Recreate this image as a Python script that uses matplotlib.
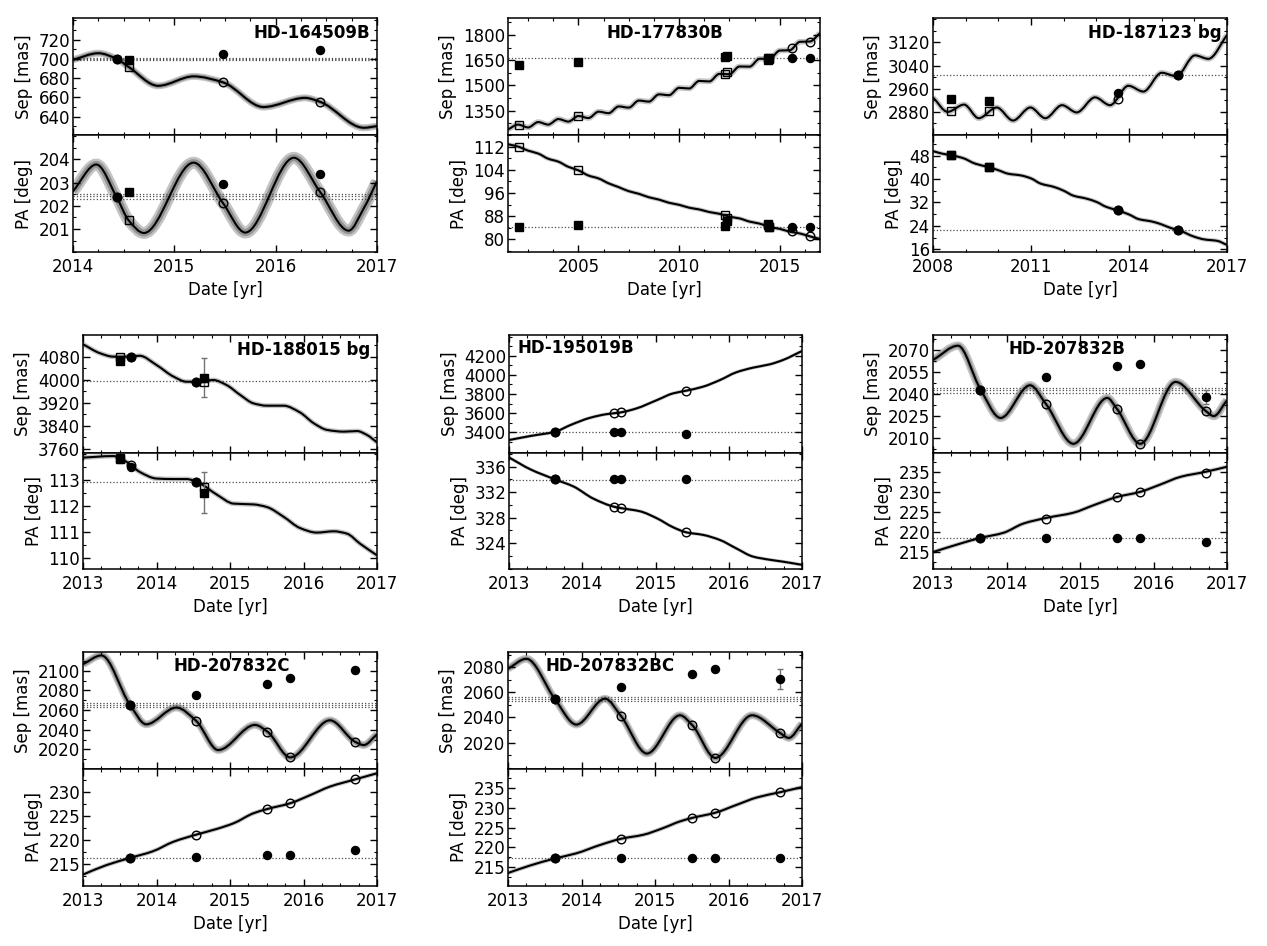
import numpy as np
import matplotlib
matplotlib.use("Agg")
import matplotlib.pyplot as plt
from matplotlib.path import Path
from matplotlib.patches import PathPatch
from matplotlib.ticker import FixedLocator, AutoMinorLocator

W, H = 1267, 946

# ---------------- data ----------------
names = ['HD-164509B', 'HD-177830B', 'HD-187123 bg', 'HD-188015 bg',
         'HD-195019B', 'HD-207832B', 'HD-207832C', 'HD-207832BC']

# HD-164509B
p1_sep_t = [2014.0, 2014.25, 2014.43, 2014.55, 2014.84, 2015.19, 2015.48, 2015.88, 2016.29, 2016.44, 2016.87, 2017.0]
p1_sep_v = [699, 705.8, 700, 691.5, 672, 681.8, 675.6, 650, 659.5, 655.3, 628.5, 630.2]
p1_pa_t = [2014.0, 2014.23, 2014.43, 2014.55, 2014.70, 2015.19, 2015.48, 2015.70, 2016.18, 2016.44, 2016.72, 2016.87, 2017.0]
p1_pa_v = [202.63, 203.78, 202.38, 201.37, 200.83, 203.86, 202.12, 200.85, 204.07, 202.59, 200.93, 201.9, 203.06]
p1_ct = [2014.43, 2015.48, 2016.44]
p1_c_sep = [700.0, 704.8, 709.3]
p1_c_sep_pred = [700.0, 675.6, 655.3]
p1_c_pa = [202.38, 202.93, 203.35]
p1_c_pa_pred = [202.38, 202.12, 202.59]
p1_st = [2014.55]
p1_s_sep = [698.5]
p1_s_sep_pred = [691.5]
p1_s_pa = [202.61]
p1_s_pa_pred = [201.37]

# HD-177830B
p2_sep_t = [2001.5, 2002.0, 2002.5, 2003.0, 2003.5, 2004.0, 2004.5, 2005.0, 2005.5, 2006.0, 2006.5,
            2007.0, 2007.5, 2008.0, 2008.5, 2009.0, 2009.5, 2010.0, 2010.5, 2011.0, 2011.5, 2012.0,
            2012.5, 2013.0, 2013.5, 2014.0, 2014.5, 2015.0, 2015.5, 2016.0, 2016.5, 2017.0]
p2_sep_v = [1238, 1267, 1250, 1282, 1267, 1300, 1285, 1318, 1306, 1344, 1335, 1375, 1368, 1410, 1404,
            1447, 1442, 1486, 1482, 1527, 1524, 1569, 1567, 1613, 1612, 1659, 1659, 1708, 1710, 1760,
            1762, 1812]
p2_pa_t = p2_sep_t
p2_pa_v = [112.8, 112.0, 110.6, 109.6, 107.8, 106.8, 105.0, 103.8, 102.0, 101.0, 99.3, 98.0, 96.6,
           95.7, 94.5, 93.7, 92.6, 91.9, 90.9, 90.3, 89.4, 88.8, 87.8, 87.2, 86.1, 85.4, 84.2, 83.6,
           82.6, 82.0, 81.0, 80.1]
p2_ct = [2015.59, 2016.5]
p2_c_sep = [1665, 1665]
p2_c_sep_pred = [1721, 1760]
p2_c_pa = [84.4, 84.4]
p2_c_pa_pred = [82.8, 81.3]
p2_st = [2002.06, 2004.99, 2012.28, 2012.36, 2014.40, 2014.46]
p2_s_sep = [1621, 1638, 1671, 1676, 1661, 1666]
p2_s_sep_pred = [1266, 1316, 1568, 1580, 1652, 1658]
p2_s_pa = [84.4, 84.8, 84.6, 86.4, 85.4, 84.4]
p2_s_pa_pred = [111.9, 103.8, 88.3, 87.2, 84.8, 84.4]

# HD-187123 bg
p3_sep_t = [2008.0, 2008.45, 2008.95, 2009.4, 2009.95, 2010.45, 2010.98, 2011.44, 2011.95, 2012.4,
            2012.96, 2013.42, 2013.98, 2014.44, 2015.0, 2015.45, 2016.02, 2016.43, 2017.0]
p3_sep_v = [2930, 2880, 2905, 2858, 2895, 2850, 2895, 2858, 2903, 2878, 2930, 2903, 2970, 2950, 3015,
            3003, 3075, 3063, 3145]
p3_pa_t = [2008.0, 2008.3, 2008.55, 2008.9, 2009.3, 2009.72, 2010.0, 2010.3, 2010.7, 2011.0, 2011.3,
           2011.7, 2012.0, 2012.3, 2012.7, 2013.0, 2013.3, 2013.65, 2014.0, 2014.3, 2014.7, 2015.0,
           2015.3, 2015.51, 2016.0, 2016.3, 2016.7, 2017.0]
p3_pa_v = [49.5, 48.6, 48.1, 47.2, 45.2, 44.0, 43.0, 41.8, 41.2, 40.2, 38.4, 37.3, 36.0, 34.3, 33.3,
           32.2, 30.5, 29.3, 27.9, 26.3, 25.5, 24.5, 23.2, 22.6, 20.3, 19.4, 18.9, 17.5]
p3_ct = [2013.65, 2015.51]
p3_c_sep = [2946, 3006]
p3_c_sep_pred = [2926, 3006]
p3_c_pa = [29.3, 22.6]
p3_c_pa_pred = [29.4, 22.6]
p3_st = [2008.55, 2009.72]
p3_s_sep = [2926, 2917]
p3_s_sep_pred = [2883, 2883]
p3_s_pa = [48.1, 44.0]
p3_s_pa_pred = [48.3, 44.2]

# HD-188015 bg
p4_sep_t = [2013.0, 2013.23, 2013.41, 2013.64, 2013.77, 2014.0, 2014.23, 2014.41, 2014.59, 2014.77,
            2014.95, 2015.14, 2015.32, 2015.5, 2015.73, 2015.95, 2016.14, 2016.32, 2016.55, 2016.73,
            2016.86, 2017.0]
p4_sep_v = [4123, 4092, 4080, 4080, 4083, 4051, 4011, 3993, 3993, 3999, 3982, 3947, 3918, 3910, 3910,
            3887, 3849, 3826, 3820, 3822, 3809, 3783]
p4_pa_t = [2013.0, 2013.41, 2013.59, 2013.77, 2014.0, 2014.23, 2014.41, 2014.59, 2014.82, 2015.05,
           2015.32, 2015.5, 2015.73, 2015.95, 2016.18, 2016.41, 2016.59, 2016.77, 2017.0]
p4_pa_v = [113.87, 113.93, 113.71, 113.32, 113.06, 113.04, 113.04, 112.87, 112.44, 112.09, 112.06,
           111.96, 111.58, 111.15, 110.97, 111.02, 110.93, 110.54, 110.09]
p4_ct = [2013.65, 2014.54]
p4_c_sep = [4080, 3993]
p4_c_sep_pred = [4080, 3993]
p4_c_pa = [113.52, 112.91]
p4_c_pa_pred = [113.58, 112.91]
p4_st = [2013.51, 2014.65]
p4_s_sep = [4065, 4007]
p4_s_sep_err = [0, 67]
p4_s_sep_pred = [4080, 3991]
p4_s_pa = [113.80, 112.52]
p4_s_pa_err = [0.15, 0.8]
p4_s_pa_pred = [113.87, 112.74]

# HD-195019B
p5_sep_t = [2013.0, 2013.29, 2013.63, 2013.84, 2014.11, 2014.33, 2014.53, 2014.74, 2015.02, 2015.24,
            2015.42, 2015.65, 2015.88, 2016.1, 2016.33, 2016.56, 2016.74, 2017.0]
p5_sep_v = [3320, 3362, 3407, 3477, 3553, 3590, 3609, 3650, 3737, 3807, 3835, 3877, 3946, 4026, 4075,
            4110, 4155, 4249]
p5_pa_t = [2013.0, 2013.29, 2013.63, 2013.88, 2014.15, 2014.44, 2014.53, 2014.79, 2015.02, 2015.24,
           2015.42, 2015.65, 2015.88, 2016.1, 2016.33, 2016.56, 2016.74, 2017.0]
p5_pa_v = [337.46, 335.6, 334.0, 332.9, 331.0, 329.7, 329.5, 329.0, 327.9, 326.5, 325.7, 325.3, 324.5,
           323.2, 321.9, 321.4, 321.1, 320.6]
p5_ct = [2013.63, 2014.44, 2014.53, 2015.42]
p5_c_sep = [3407, 3400, 3400, 3383]
p5_c_sep_pred = [3407, 3598, 3609, 3835]
p5_c_pa = [334.0, 334.0, 334.0, 334.07]
p5_c_pa_pred = [334.0, 329.7, 329.5, 325.7]

# HD-207832B
p6_sep_t = [2013.0, 2013.34, 2013.64, 2013.92, 2014.32, 2014.54, 2014.91, 2015.37, 2015.5, 2015.82,
            2016.3, 2016.71, 2016.82, 2017.0]
p6_sep_v = [2063.2, 2073.0, 2043.8, 2023.7, 2046.0, 2033.0, 2006.1, 2037.4, 2030.1, 2006.1, 2048.3,
            2028.5, 2025.0, 2035.8]
p6_pa_t = [2013.0, 2013.37, 2013.64, 2013.96, 2014.23, 2014.54, 2014.91, 2015.19, 2015.5, 2015.82,
           2016.09, 2016.37, 2016.71, 2017.0]
p6_pa_v = [215.0, 217.1, 218.5, 219.8, 222.1, 223.5, 224.8, 226.7, 228.7, 230.0, 231.8, 233.75, 235.0, 236.25]
p6_ct = [2013.64, 2014.54, 2015.5, 2015.82, 2016.71]
p6_c_sep = [2042.6, 2051.8, 2059.3, 2060.2, 2038.1]
p6_c_sep_err = [0, 0, 0, 0, 5]
p6_c_sep_pred = [2042.6, 2033.0, 2030.1, 2006.1, 2028.5]
p6_c_pa = [218.5, 218.5, 218.5, 218.5, 217.5]
p6_c_pa_pred = [218.5, 223.3, 228.7, 230.0, 234.8]

# HD-207832C
p7_sep_t = [2013.0, 2013.25, 2013.64, 2013.86, 2014.27, 2014.54, 2014.84, 2015.34, 2015.51, 2015.82,
            2016.36, 2016.7, 2016.82, 2017.0]
p7_sep_v = [2106.8, 2115.7, 2065.3, 2045.5, 2062.6, 2049.0, 2019.3, 2044.9, 2038.0, 2011.8, 2049.6,
            2027.8, 2024.4, 2035.3]
p7_pa_t = [2013.0, 2013.32, 2013.64, 2013.95, 2014.23, 2014.54, 2014.82, 2015.05, 2015.32, 2015.51,
           2015.82, 2016.09, 2016.36, 2016.7, 2017.0]
p7_pa_v = [212.7, 214.7, 216.2, 217.6, 219.6, 221.1, 222.3, 223.5, 225.6, 226.5, 227.7, 229.4, 231.2, 232.7, 234.0]
p7_ct = [2013.64, 2014.54, 2015.51, 2015.82, 2016.7]
p7_c_sep = [2065.3, 2075.5, 2086.7, 2093.2, 2101.0]
p7_c_sep_err = [0, 0, 0, 0, 3]
p7_c_sep_pred = [2065.3, 2049.0, 2038.0, 2011.8, 2027.8]
p7_c_pa = [216.2, 216.4, 216.8, 216.8, 217.8]
p7_c_pa_pred = [216.2, 221.1, 226.5, 227.7, 232.7]

# HD-207832BC
p8_sep_t = [2013.0, 2013.25, 2013.64, 2013.93, 2014.32, 2014.54, 2014.89, 2015.34, 2015.51, 2015.82,
            2016.32, 2016.7, 2016.82, 2017.0]
p8_sep_v = [2078.7, 2086.6, 2054.4, 2034.3, 2054.9, 2040.9, 2011.3, 2041.7, 2033.7, 2007.8, 2041.7,
            2027.7, 2023.7, 2035.1]
p8_pa_t = [2013.0, 2013.3, 2013.64, 2013.93, 2014.25, 2014.54, 2014.84, 2015.11, 2015.34, 2015.51,
           2015.82, 2016.11, 2016.39, 2016.7, 2017.0]
p8_pa_v = [213.5, 215.4, 217.2, 218.5, 220.6, 222.2, 223.2, 224.9, 226.6, 227.5, 228.8, 230.8, 232.7, 234.0, 235.3]
p8_ct = [2013.64, 2014.54, 2015.51, 2015.82, 2016.7]
p8_c_sep = [2054.4, 2064.1, 2074.4, 2078.1, 2070.7]
p8_c_sep_err = [0, 0, 0, 0, 8]
p8_c_sep_pred = [2054.4, 2040.9, 2033.7, 2007.8, 2027.7]
p8_c_pa = [217.2, 217.2, 217.4, 217.4, 217.4]
p8_c_pa_pred = [217.2, 222.2, 227.5, 228.8, 234.0]

# reference epoch values (dotted lines) and their spread
ref_sep = [700.0, 1665, 3007, 3996, 3407, 2042.6, 2065.3, 2054.4]
ref_sep_err = [1.3, 0, 0, 0, 0, 1.8, 2.0, 1.7]
ref_pa = [202.41, 84.4, 22.6, 112.91, 333.9, 218.5, 216.2, 217.2]
ref_pa_err = [0.12, 0, 0, 0, 0, 0, 0, 0]

# axis ranges and tick labels
xlims = [(2014, 2017), (2001.5, 2017), (2008, 2017), (2013, 2017),
         (2013, 2017), (2013, 2017), (2013, 2017), (2013, 2017)]
xticks = [[2014, 2015, 2016, 2017], [2005, 2010, 2015], [2008, 2011, 2014, 2017],
          [2013, 2014, 2015, 2016, 2017], [2013, 2014, 2015, 2016, 2017],
          [2013, 2014, 2015, 2016, 2017], [2013, 2014, 2015, 2016, 2017],
          [2013, 2014, 2015, 2016, 2017]]
sep_lims = [(621, 742), (1205, 1900), (2800, 3203), (3747, 4155),
            (3188, 4416), (2000, 2080.3), (2000, 2119.7), (1999, 2092.4)]
sep_ticks = [[640, 660, 680, 700, 720], [1350, 1500, 1650, 1800], [2880, 2960, 3040, 3120],
             [3760, 3840, 3920, 4000, 4080], [3400, 3600, 3800, 4000, 4200],
             [2010, 2025, 2040, 2055, 2070], [2020, 2040, 2060, 2080, 2100],
             [2020, 2040, 2060, 2080]]
pa_lims = [(200.0, 205.05), (75.5, 116.0), (15.0, 55.0), (109.55, 114.06),
           (319.9, 338.2), (210.7, 239.75), (210.3, 234.9), (210.2, 239.9)]
pa_ticks = [[201, 202, 203, 204], [80, 88, 96, 104, 112], [16, 24, 32, 40, 48],
            [110, 111, 112, 113], [324, 328, 332, 336], [215, 220, 225, 230, 235],
            [215, 220, 225, 230], [215, 220, 225, 230, 235]]

# ---------------- layout / style ----------------
# pixel boxes (left, right) per panel and (top, middle, bottom) per row
cols = [(73, 377), (508, 820), (933, 1227), (83, 377), (509, 802), (933, 1227), (83, 377), (508, 802)]
rows = [(18.3, 135.0, 252.3), (335.0, 452.7, 569.3), (651.5, 769.0, 886.0)]
x_minor = [4, 4, 3, 4, 4, 4, 4, 4]
# title placement (axes fraction x, y, ha)
title_pos = [(0.977, 0.87, 'right'), (0.503, 0.877, 'center'), (0.982, 0.87, 'right'),
             (0.976, 0.873, 'right'), (0.028, 0.887, 'left'), (0.457, 0.88, 'center'),
             (0.506, 0.88, 'center'), (0.347, 0.88, 'center')]
# envelope widths (light, dark) in points for sep / pa curves
sep_band = [(5, 3), (4, 0), (4, 0), (3.5, 0), (2.5, 0), (6, 3.5), (5.5, 3.5), (5.5, 3.5)]
pa_band = [(8.5, 5), (3, 0), (3, 0), (3.5, 0), (2.5, 0), (3, 0), (3, 0), (3, 0)]

plt.rcParams['font.family'] = 'DejaVu Sans'
plt.rcParams['font.size'] = 12
plt.rcParams['axes.linewidth'] = 1.1


def smooth_path(t, v):
    # monotone cubic (pchip-style) through the read points, as bezier segments
    x = np.asarray(t, float)
    y = np.asarray(v, float)
    h = np.diff(x)
    d = np.diff(y) / h
    m = np.zeros_like(y)
    m[0] = d[0]
    m[-1] = d[-1]
    for k in range(1, len(x) - 1):
        if d[k - 1] * d[k] > 0:
            w1 = 2 * h[k] + h[k - 1]
            w2 = h[k] + 2 * h[k - 1]
            m[k] = (w1 + w2) / (w1 / d[k - 1] + w2 / d[k])
    verts = [(x[0], y[0])]
    codes = [Path.MOVETO]
    for k in range(len(h)):
        verts += [(x[k] + h[k] / 3, y[k] + m[k] * h[k] / 3),
                  (x[k + 1] - h[k] / 3, y[k + 1] - m[k + 1] * h[k] / 3),
                  (x[k + 1], y[k + 1])]
        codes += [Path.CURVE4] * 3
    return Path(verts, codes)


def draw_curve(ax, t, v, band):
    path = smooth_path(t, v)
    light, dark = band
    if light:
        ax.add_patch(PathPatch(path, fill=False, lw=light, edgecolor='#c4c4c4', capstyle='butt', zorder=1))
    if dark:
        ax.add_patch(PathPatch(path, fill=False, lw=dark, edgecolor='#939393', capstyle='butt', zorder=1.1))
    ax.add_patch(PathPatch(path, fill=False, lw=1.5, edgecolor='k', zorder=2))


def ref_lines(ax, val, err):
    for y in ([val - err, val, val + err] if err else [val]):
        ax.axhline(y, color='0.3', lw=0.9, ls=':', zorder=1.5)


def points(ax, t, meas, pred, marker, err=None):
    if not t:
        return
    ax.plot(t, pred, ls='none', marker=marker, ms=6.2, mfc='none', mec='k', mew=1.0, zorder=3)
    if err is not None and any(err):
        ax.errorbar(t, meas, yerr=err, fmt='none', ecolor='0.45', elinewidth=1, capsize=2, zorder=2.5)
    ax.plot(t, meas, ls='none', marker=marker, ms=5.8, color='k', zorder=4)


def style_axis(ax, i, ticks, lims):
    ax.set_xlim(*xlims[i])
    ax.set_ylim(*lims)
    ax.xaxis.set_major_locator(FixedLocator(xticks[i]))
    ax.xaxis.set_minor_locator(AutoMinorLocator(x_minor[i]))
    ax.yaxis.set_major_locator(FixedLocator(ticks))
    ax.yaxis.set_minor_locator(AutoMinorLocator(2))
    ax.tick_params(which='both', direction='in', top=True, right=True)
    ax.tick_params(which='major', length=5, width=1)
    ax.tick_params(which='minor', length=2.5, width=0.8)
    ax.tick_params(axis='y', pad=2)
    ax.tick_params(axis='x', pad=4)


panels = [
    dict(sep=(p1_sep_t, p1_sep_v), pa=(p1_pa_t, p1_pa_v),
         circ=(p1_ct, p1_c_sep, p1_c_sep_pred, p1_c_pa, p1_c_pa_pred, None),
         sq=(p1_st, p1_s_sep, p1_s_sep_pred, p1_s_pa, p1_s_pa_pred, None, None)),
    dict(sep=(p2_sep_t, p2_sep_v), pa=(p2_pa_t, p2_pa_v),
         circ=(p2_ct, p2_c_sep, p2_c_sep_pred, p2_c_pa, p2_c_pa_pred, None),
         sq=(p2_st, p2_s_sep, p2_s_sep_pred, p2_s_pa, p2_s_pa_pred, None, None)),
    dict(sep=(p3_sep_t, p3_sep_v), pa=(p3_pa_t, p3_pa_v),
         circ=(p3_ct, p3_c_sep, p3_c_sep_pred, p3_c_pa, p3_c_pa_pred, None),
         sq=(p3_st, p3_s_sep, p3_s_sep_pred, p3_s_pa, p3_s_pa_pred, None, None)),
    dict(sep=(p4_sep_t, p4_sep_v), pa=(p4_pa_t, p4_pa_v),
         circ=(p4_ct, p4_c_sep, p4_c_sep_pred, p4_c_pa, p4_c_pa_pred, None),
         sq=(p4_st, p4_s_sep, p4_s_sep_pred, p4_s_pa, p4_s_pa_pred, p4_s_sep_err, p4_s_pa_err)),
    dict(sep=(p5_sep_t, p5_sep_v), pa=(p5_pa_t, p5_pa_v),
         circ=(p5_ct, p5_c_sep, p5_c_sep_pred, p5_c_pa, p5_c_pa_pred, None), sq=None),
    dict(sep=(p6_sep_t, p6_sep_v), pa=(p6_pa_t, p6_pa_v),
         circ=(p6_ct, p6_c_sep, p6_c_sep_pred, p6_c_pa, p6_c_pa_pred, p6_c_sep_err), sq=None),
    dict(sep=(p7_sep_t, p7_sep_v), pa=(p7_pa_t, p7_pa_v),
         circ=(p7_ct, p7_c_sep, p7_c_sep_pred, p7_c_pa, p7_c_pa_pred, p7_c_sep_err), sq=None),
    dict(sep=(p8_sep_t, p8_sep_v), pa=(p8_pa_t, p8_pa_v),
         circ=(p8_ct, p8_c_sep, p8_c_sep_pred, p8_c_pa, p8_c_pa_pred, p8_c_sep_err), sq=None),
]

fig = plt.figure(figsize=(W / 100, H / 100), dpi=100)

for i, p in enumerate(panels):
    x0, x1 = cols[i]
    top, mid, bot = rows[i // 3]
    ax_sep = fig.add_axes([x0 / W, 1 - mid / H, (x1 - x0) / W, (mid - top) / H])
    ax_pa = fig.add_axes([x0 / W, 1 - bot / H, (x1 - x0) / W, (bot - mid) / H])

    # separation
    draw_curve(ax_sep, *p['sep'], sep_band[i])
    ref_lines(ax_sep, ref_sep[i], ref_sep_err[i])
    ct, c_sep, c_sep_pred, c_pa, c_pa_pred, c_err = p['circ']
    if p['sq']:
        st, s_sep, s_sep_pred, s_pa, s_pa_pred, s_sep_err, s_pa_err = p['sq']
        points(ax_sep, st, s_sep, s_sep_pred, 's', s_sep_err)
    points(ax_sep, ct, c_sep, c_sep_pred, 'o', c_err)
    style_axis(ax_sep, i, sep_ticks[i], sep_lims[i])
    ax_sep.tick_params(labelbottom=False)
    ax_sep.set_ylabel('Sep [mas]')
    tx, ty, ha = title_pos[i]
    ax_sep.text(tx, ty, names[i], transform=ax_sep.transAxes, ha=ha, va='center',
                fontsize=12, fontweight='bold', zorder=6)

    # position angle
    draw_curve(ax_pa, *p['pa'], pa_band[i])
    ref_lines(ax_pa, ref_pa[i], ref_pa_err[i])
    if p['sq']:
        points(ax_pa, st, s_pa, s_pa_pred, 's', s_pa_err)
    points(ax_pa, ct, c_pa, c_pa_pred, 'o')
    style_axis(ax_pa, i, pa_ticks[i], pa_lims[i])
    ax_pa.set_ylabel('PA [deg]')
    ax_pa.set_xlabel('Date [yr]')

fig.savefig('out.png', dpi=100)
